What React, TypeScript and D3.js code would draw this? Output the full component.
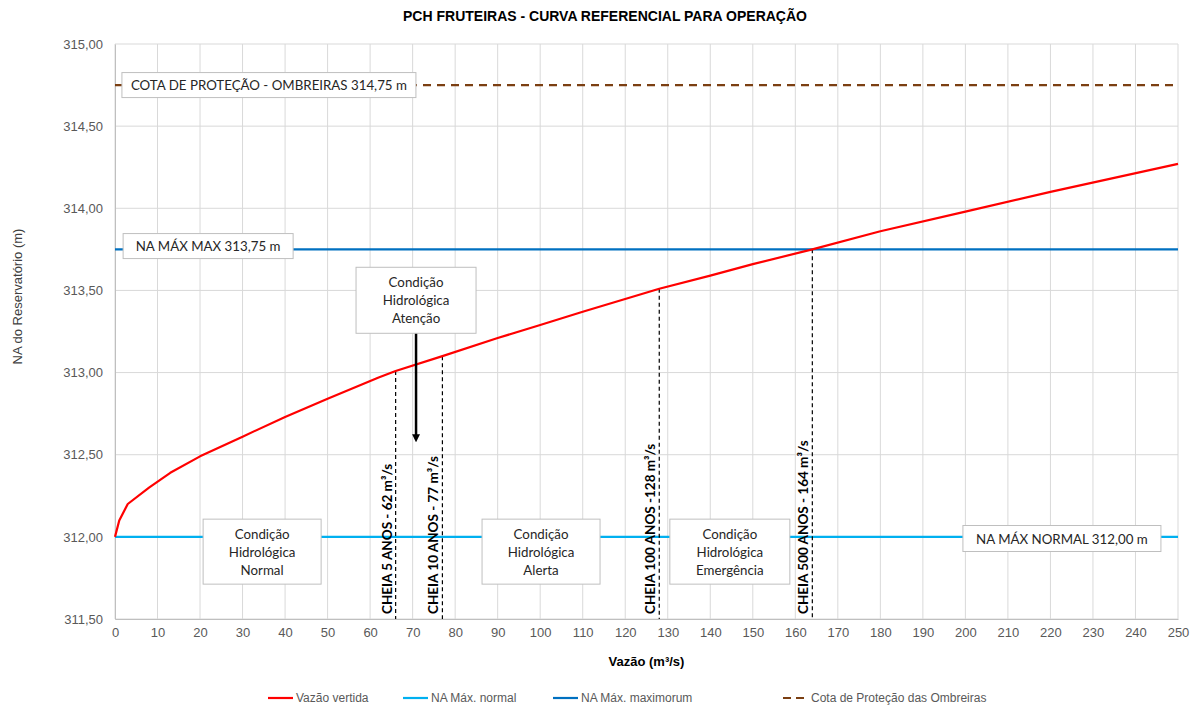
import React, { useEffect, useRef } from "react";
import * as d3 from "d3";

// curva cota x vazão vertida
const vazao = [0, 1, 3, 8, 13, 20, 30, 40, 50, 62, 66, 77, 90, 100, 110, 128, 140, 150, 164, 180, 200, 220, 250];
const nivel = [312.0, 312.1, 312.2, 312.3, 312.39, 312.49, 312.61, 312.73, 312.84, 312.97, 313.01, 313.1, 313.21, 313.29, 313.37, 313.51, 313.59, 313.66, 313.75, 313.86, 313.98, 314.1, 314.27];

const naNormal = 312.0;
const naMaxMax = 313.75;
const cotaProtecao = 314.75;

const cheiaVazao = [66, 77, 128, 164];
const cheiaLabels = ["CHEIA 5 ANOS -  62 m³/s", "CHEIA 10 ANOS - 77 m³/s", "CHEIA 100 ANOS -128 m³/s", "CHEIA 500 ANOS - 164 m³/s"];

const xTicks = d3.range(0, 251, 10);
const yTicks = [311.5, 312, 312.5, 313, 313.5, 314, 314.5, 315];

const legendLabels = ["Vazão vertida", "NA Máx. normal", "NA Máx. maximorum", "Cota de Proteção das Ombreiras"];

export default function App() {
  const ref = useRef<SVGSVGElement>(null);

  useEffect(() => {
    const W = 1195,
      H = 708;
    const margin = { top: 44, right: 17, bottom: 89, left: 115 };
    const width = W - margin.left - margin.right,
      height = H - margin.top - margin.bottom;

    const root = d3.select(ref.current);
    root.selectAll("*").remove();

    const axisFont = "'Liberation Sans', Arial, sans-serif";
    const boxFont = "Lato, 'Noto Sans', sans-serif";

    root
      .append("text")
      .attr("x", 605)
      .attr("y", 21)
      .attr("text-anchor", "middle")
      .style("font-family", axisFont)
      .style("font-weight", "bold")
      .style("font-size", "14px")
      .attr("fill", "#000")
      .text("PCH FRUTEIRAS - CURVA REFERENCIAL PARA OPERAÇÃO");

    const svg = root.append("g").attr("transform", `translate(${margin.left}, ${margin.top})`);

    const x = d3.scaleLinear().domain([0, 250]).range([0, width]);
    const y = d3.scaleLinear().domain([311.5, 315]).range([height, 0]);

    // grade
    svg
      .append("g")
      .selectAll("line")
      .data(xTicks)
      .enter()
      .append("line")
      .attr("x1", (d) => x(d))
      .attr("x2", (d) => x(d))
      .attr("y1", 0)
      .attr("y2", height)
      .attr("stroke", "#d9d9d9")
      .attr("stroke-width", 1);
    svg
      .append("g")
      .selectAll("line")
      .data(yTicks)
      .enter()
      .append("line")
      .attr("x1", 0)
      .attr("x2", width)
      .attr("y1", (d) => y(d))
      .attr("y2", (d) => y(d))
      .attr("stroke", "#d9d9d9")
      .attr("stroke-width", 1);

    // eixos
    const yAxis = svg
      .append("g")
      .call(d3.axisLeft(y).tickValues(yTicks).tickSize(0).tickPadding(12).tickFormat((d) => d3.format(".2f")(d as number).replace(".", ",")));
    yAxis.select(".domain").attr("stroke", "#bfbfbf");
    yAxis.selectAll("text").style("font-family", axisFont).style("font-size", "13px").attr("fill", "#595959");

    const xAxis = svg
      .append("g")
      .attr("transform", `translate(0, ${height})`)
      .call(d3.axisBottom(x).tickValues(xTicks).tickSize(0).tickPadding(9));
    xAxis.select(".domain").attr("stroke", "#bfbfbf");
    xAxis.selectAll("text").style("font-family", axisFont).style("font-size", "13px").attr("fill", "#595959");

    svg
      .append("text")
      .attr("x", width / 2)
      .attr("y", height + 47)
      .attr("text-anchor", "middle")
      .style("font-family", axisFont)
      .style("font-weight", "bold")
      .style("font-size", "13px")
      .text("Vazão (m³/s)");

    svg
      .append("text")
      .attr("transform", `translate(${-93}, ${height / 2 - 35}) rotate(-90)`)
      .attr("text-anchor", "middle")
      .style("font-family", axisFont)
      .style("font-size", "13px")
      .attr("fill", "#404040")
      .text("NA do Reservatório (m)");

    // linhas de referência
    const hline = (v: number, color: string, dash: string | null) => {
      svg
        .append("line")
        .attr("x1", 0)
        .attr("x2", width)
        .attr("y1", y(v))
        .attr("y2", y(v))
        .attr("stroke", color)
        .attr("stroke-width", 2.2)
        .attr("stroke-dasharray", dash);
    };
    hline(naNormal, "#00b0f0", null);
    hline(naMaxMax, "#0070c0", null);
    hline(cotaProtecao, "#7b3f12", "8,6");

    // linhas das cheias
    const nivelAt = d3.scaleLinear().domain(vazao).range(nivel);
    cheiaVazao.forEach((q, i) => {
      svg
        .append("line")
        .attr("x1", x(q))
        .attr("x2", x(q))
        .attr("y1", y(nivelAt(q)))
        .attr("y2", height)
        .attr("stroke", "#000")
        .attr("stroke-width", 1.2)
        .attr("stroke-dasharray", "4,3");
      svg
        .append("text")
        .attr("transform", `translate(${x(q) - 4}, ${height - 5}) rotate(-90)`)
        .style("font-family", boxFont)
        .style("font-weight", "bold")
        .style("font-size", "13.5px")
        .attr("fill", "#000")
        .text(cheiaLabels[i]);
    });

    // curva
    const line = d3
      .line<number>()
      .x((d, i) => x(vazao[i]))
      .y((d) => y(d));
    svg
      .append("path")
      .datum(nivel)
      .attr("d", line)
      .attr("fill", "none")
      .attr("stroke", "#ff0000")
      .attr("stroke-width", 2.2)
      .attr("stroke-linejoin", "round");

    // seta
    const defs = root.append("defs");
    defs
      .append("marker")
      .attr("id", "arrow")
      .attr("viewBox", "0 0 10 10")
      .attr("refX", 5)
      .attr("refY", 5)
      .attr("markerWidth", 3.2)
      .attr("markerHeight", 3.2)
      .attr("orient", "auto")
      .append("path")
      .attr("d", "M0,0 L10,5 L0,10 z")
      .attr("fill", "#000");
    svg
      .append("line")
      .attr("x1", x(70.8))
      .attr("x2", x(70.8))
      .attr("y1", y(313.27))
      .attr("y2", y(312.6))
      .attr("stroke", "#000")
      .attr("stroke-width", 2.5)
      .attr("marker-end", "url(#arrow)");

    // caixas de texto
    const box = (cx: number, cy: number, w: number, h: number, lines: string[]) => {
      const px = x(cx),
        py = y(cy);
      svg
        .append("rect")
        .attr("x", px - w / 2)
        .attr("y", py - h / 2)
        .attr("width", w)
        .attr("height", h)
        .attr("fill", "#fff")
        .attr("stroke", "#bfbfbf")
        .attr("stroke-width", 1);
      const lh = 18;
      lines.forEach((t, i) => {
        svg
          .append("text")
          .attr("x", px)
          .attr("y", py + (i - (lines.length - 1) / 2) * lh + 5)
          .attr("text-anchor", "middle")
          .style("font-family", boxFont)
          .style("font-size", "13.3px")
          .attr("fill", "#262626")
          .text(t);
      });
    };
    box(70.8, 313.44, 120, 66, ["Condição", "Hidrológica", "Atenção"]);
    box(34.6, 311.91, 118, 65, ["Condição", "Hidrológica", "Normal"]);
    box(100.2, 311.91, 118, 65, ["Condição", "Hidrológica", "Alerta"]);
    box(144.6, 311.91, 120, 65, ["Condição", "Hidrológica", "Emergência"]);
    box(36.2, 314.75, 294, 25, ["COTA DE PROTEÇÃO - OMBREIRAS 314,75 m"]);
    box(21.9, 313.77, 170, 25, ["NA MÁX MAX 313,75 m"]);
    box(222.7, 311.99, 198, 26, ["NA MÁX NORMAL 312,00 m"]);

    // legenda
    const legColors = ["#ff0000", "#00b0f0", "#0070c0", "#7b3f12"];
    const legX = [268, 403, 553, 783];
    legendLabels.forEach((t, i) => {
      root
        .append("line")
        .attr("x1", legX[i])
        .attr("x2", legX[i] + 25)
        .attr("y1", 698)
        .attr("y2", 698)
        .attr("stroke", legColors[i])
        .attr("stroke-width", 2.2)
        .attr("stroke-dasharray", i === 3 ? "8,5" : null);
      root
        .append("text")
        .attr("x", legX[i] + 28)
        .attr("y", 702)
        .style("font-family", axisFont)
        .style("font-size", "12px")
        .attr("fill", "#595959")
        .text(t);
    });
  }, []);

  return (
    <div style={{ position: "fixed", left: 0, top: 0, width: 1195, height: 708, overflow: "hidden" }}>
      <svg ref={ref} width={1195} height={708} style={{ display: "block", background: "#fff" }}></svg>
    </div>
  );
}
